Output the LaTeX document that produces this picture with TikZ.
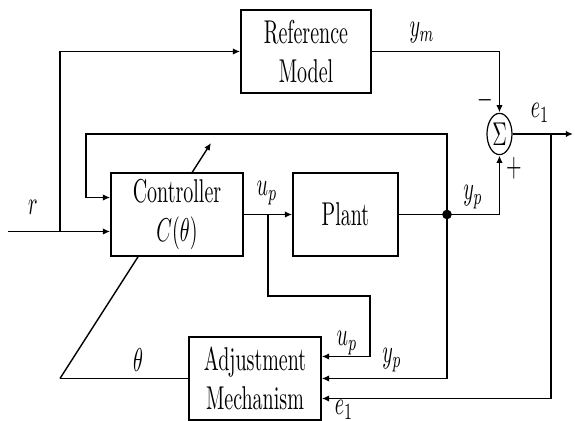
\documentclass[tikz,border=0pt]{standalone}
\usepackage{tikz}
\usetikzlibrary{arrows.meta,positioning}
\usepackage{amsmath,amssymb}

\begin{document}
\begin{tikzpicture}[
    x=0.5pt, y=-0.5pt,
    box/.style={draw, fill=white, line width=0.9pt, yscale=1.65, transform shape, align=center, inner sep=0pt, minimum height=25.2pt, minimum width=66pt},
    sumnode/.style={draw, circle, fill=white, line width=0.6pt, yscale=1.65, transform shape, inner sep=0pt, minimum size=12.5pt},
    lab/.style={yscale=1.65, transform shape, inner sep=0pt},
    flow/.style={-{Latex[length=3.6pt,width=3.2pt]}, line width=0.9pt},
    wire/.style={line width=0.9pt}
]
\useasboundingbox (0,0) rectangle (575,421);
\coordinate (r0) at (8,231.5);
\coordinate (rb) at (60,231.5);
\coordinate (fb) at (86,134);
\coordinate (ub) at (268,214.5);
\coordinate (uc) at (370,296);
\coordinate (eb) at (551,134);
\coordinate (out) at (573,134);
\coordinate (thl) at (60,378.5);
\coordinate (tune) at (211,143);
\draw[flow, line width=0.7pt] (thl) -- (tune);
\node[box, minimum width=65pt] (ref) at (306,51.5) {Reference\\Model};
\node[box] (ctrl) at (177,214.5) {Controller\\$C(\theta)$};
\node[box, minimum width=52.5pt] (plant) at (345.5,214.5) {Plant};
\node[box] (adj) at (255,378.5) {Adjustment\\Mechanism};
\node[sumnode] (sum) at (499.5,134) {$\Sigma$};
\node[circle, fill, inner sep=1.7pt] (dot) at (447,214.5) {};
\node[lab] (lr) at (33,207) {$r$};
\node[lab] (lym) at (422,33) {$y_m$};
\node[lab] (lup) at (267,193) {$u_p$};
\node[lab] (lyp) at (473,197) {$y_p$};
\node[lab] (lminus) at (485,100) {$-$};
\node[lab] (lplus) at (514,168) {$+$};
\node[lab] (le) at (540,113) {$e_1$};
\node[lab] (ltheta) at (138,360) {$\theta$};
\node[lab] (lup2) at (347,343) {$u_p$};
\node[lab] (lyp2) at (392,360) {$y_p$};
\node[lab] (le2) at (344,410) {$e_1$};
\draw[flow] (r0) -- ([yshift=-8.5pt]ctrl.west);
\draw[flow] (rb) |- (ref.west);
\draw[flow] (ref.east) -| (sum.north);
\draw[flow] (ctrl.east) -- (plant.west);
\draw[flow] (plant.east) -| (sum.south);
\draw[flow] (dot.center) |- (fb) |- ([yshift=8.5pt]ctrl.west);
\draw[flow] (dot.center) |- (adj.east);
\draw[flow] (ub) |- (uc) |- ([yshift=11pt]adj.east);
\draw[flow] (sum.east) -- (out);
\draw[flow] (eb) |- ([yshift=-10pt]adj.east);
\draw[wire] (adj.west) -- (thl);
\end{tikzpicture}
\end{document}
